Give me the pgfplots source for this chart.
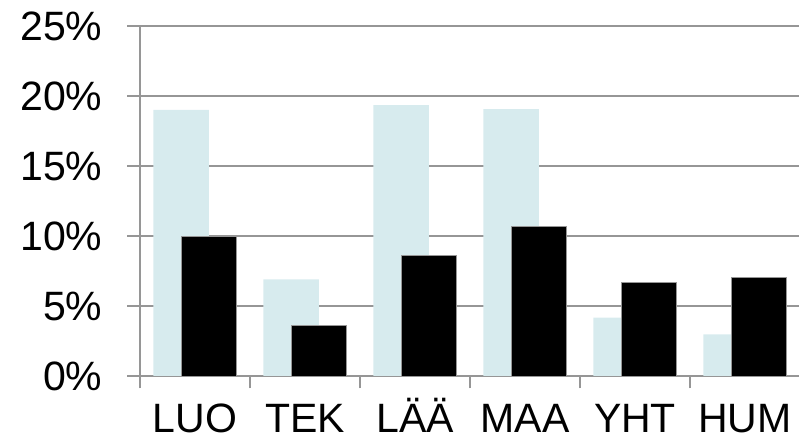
\documentclass[border=0pt]{standalone}
\usepackage{pgfplots}
\pgfplotsset{compat=1.18}
\usepackage{fontspec}
\setmainfont{Liberation Sans}
\definecolor{lightbar}{RGB}{215,235,238}
\definecolor{axgray}{RGB}{150,150,150}
\begin{document}
\begin{tikzpicture}[x=1pt,y=1pt]
\begin{axis}[
  at={(140pt,67pt)}, anchor=south west,
  scale only axis, width=660pt, height=350pt,
  xmin=-0.5, xmax=5.5, ymin=0, ymax=25,
  axis lines*=left,
  axis line style={axgray, line width=1.5pt},
  xtick={-0.5,0.5,...,5.5},
  x tick label as interval,
  xticklabels={LUO,TEK,LÄÄ,MAA,YHT,HUM},
  ytick={0,5,10,15,20,25},
  yticklabels={0\%,5\%,10\%,15\%,20\%,25\%},
  tick align=outside,
  major tick length=12.5pt,
  tick style={axgray, line width=1.5pt},
  ymajorgrids,
  grid style={axgray, line width=1.5pt},
  ticklabel style={font=\fontsize{41}{43}\selectfont, inner sep=0pt},
  xticklabel style={anchor=base, yshift=-44pt},
  yticklabel style={anchor=east, xshift=-25pt},
  bar width=0.505,
  clip=false,
]
\addplot[ybar, bar shift=-0.126, fill=lightbar, draw=none] coordinates {
  (0,19.0) (1,6.9) (2,19.35) (3,19.07) (4,4.17) (5,2.97)};
\addplot[ybar, bar shift=0.126, fill=black, draw=axgray, line width=0.8pt] coordinates {
  (0,9.97) (1,3.6) (2,8.64) (3,10.71) (4,6.68) (5,7.03)};
\end{axis}
\pgfresetboundingbox
\path (0,0) rectangle (799,443);
\end{tikzpicture}
\end{document}
